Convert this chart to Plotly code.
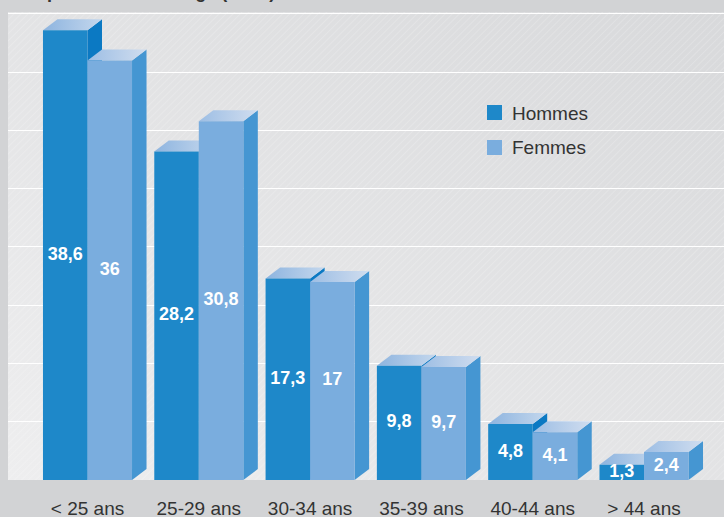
import base64
import plotly.graph_objects as go

# ---- data ----
categories = ["< 25 ans", "25-29 ans", "30-34 ans", "35-39 ans", "40-44 ans", "> 44 ans"]
hommes = [38.6, 28.2, 17.3, 9.8, 4.8, 1.3]
femmes = [36.0, 30.8, 17.0, 9.7, 4.1, 2.4]
series_names = ["Hommes", "Femmes"]
title_text = "Répartition selon l'âge (en %)"

# ---- geometry / style ----
W, H = 724, 517
ML, MR, MT, MB = 8, 0, 12, 37
PW, PH = W - ML - MR, H - MT - MB
X0, XPX = 87.5, 111.3          # pixel of category 0 centre, pixels per category
YMAX = 40.17
XR = [(ML - X0) / XPX, (W - MR - X0) / XPX]
BW = 0.4                        # bar width in category units
DX = 14.5 / XPX                 # depth offset x
DY = 11 * YMAX / PH             # depth offset y

FONT = "Arial, Liberation Sans, sans-serif"
styles = {
    "Hommes": dict(front="#1e88c9", side="#0b79c3", top=["#8db4df", "#c4d7ed"]),
    "Femmes": dict(front="#7aadde", side="#4596d2", top=["#9dbee4", "#d0ddef"]),
}

fig = go.Figure()


def poly(xs, ys, color=None, grad=None):
    xs = list(xs) + [xs[0]]
    ys = list(ys) + [ys[0]]
    kw = dict(x=xs, y=ys, mode="lines", fill="toself", line=dict(width=0),
              hoverinfo="skip", showlegend=False)
    if grad:
        kw["fillgradient"] = dict(type="horizontal",
                                  colorscale=[[0, grad[0]], [1, grad[1]]])
        kw["fillcolor"] = grad[1]
    else:
        kw["fillcolor"] = color
    fig.add_trace(go.Scatter(**kw))


def bar3d(x0, h, st):
    x1 = x0 + BW
    # side
    poly([x1, x1 + DX, x1 + DX, x1], [0, DY, h + DY, h], color=st["side"])
    # top
    poly([x0, x1, x1 + DX, x0 + DX], [h, h, h + DY, h + DY], grad=st["top"])
    # front
    poly([x0, x1, x1, x0], [0, 0, h, h], color=st["front"])


for i, cat in enumerate(categories):
    bar3d(i - BW, hommes[i], styles["Hommes"])
    bar3d(i, femmes[i], styles["Femmes"])

# value labels
lx, ly, lt = [], [], []
for i in range(len(categories)):
    lx += [i - BW / 2, i + BW / 2]
    ly += [hommes[i] / 2, femmes[i] / 2]
    lt += [f"{hommes[i]:g}".replace(".", ","), f"{femmes[i]:g}".replace(".", ",")]
fig.add_trace(go.Scatter(x=lx, y=ly, text=lt, mode="text",
                         textfont=dict(family=FONT, size=18, color="white", weight="bold"),
                         hoverinfo="skip", showlegend=False))

# background panel (gradient + diagonal hatch) as inline svg
svg = f'''<svg xmlns="http://www.w3.org/2000/svg" width="{PW}" height="{PH}" viewBox="0 0 {PW} {PH}" preserveAspectRatio="none">
<defs>
<linearGradient id="g" x1="0" y1="1" x2="1" y2="0">
<stop offset="0" stop-color="#eeeeef"/><stop offset="1" stop-color="#d8d9db"/>
</linearGradient>
<pattern id="p" width="5" height="5" patternUnits="userSpaceOnUse" patternTransform="rotate(45)">
<line x1="0" y1="0" x2="0" y2="5" stroke="#ffffff" stroke-opacity="0.35" stroke-width="1"/>
</pattern>
</defs>
<rect width="{PW}" height="{PH}" fill="url(#g)"/>
<rect width="{PW}" height="{PH}" fill="url(#p)"/>
</svg>'''
uri = "data:image/svg+xml;base64," + base64.b64encode(svg.encode()).decode()
fig.add_layout_image(dict(source=uri, xref="paper", yref="paper", x=0, y=1,
                          sizex=1, sizey=1, sizing="stretch", layer="below",
                          xanchor="left", yanchor="top"))


def px2paper(px, py):
    return (px - ML) / PW, (H - MB - py) / PH


# custom legend
leg = [("Hommes", 105, 113), ("Femmes", 140, 148)]
for name, top, mid in leg:
    xa, ya = px2paper(487, top)
    xb, yb = px2paper(502, top + 15)
    fig.add_shape(type="rect", xref="paper", yref="paper", x0=xa, x1=xb, y0=yb, y1=ya,
                  fillcolor=styles[name]["front"], line=dict(width=0))
    tx, ty = px2paper(510, mid)
    fig.add_annotation(x=tx, y=ty, xref="paper", yref="paper", text=name,
                       showarrow=False, xanchor="left", yanchor="middle",
                       font=dict(family=FONT, size=19, color="#333333"))

# clipped title at top (only its lowest part shows, as in the reference)
tx, ty = px2paper(22, 4)
fig.add_annotation(x=tx, y=ty, xref="paper", yref="paper", text=f"<b>{title_text}</b>",
                   showarrow=False, xanchor="left", yanchor="bottom",
                   font=dict(family=FONT, size=18, color="#333333"))

fig.update_layout(
    width=W, height=H,
    margin=dict(l=ML, r=MR, t=MT, b=MB, pad=0, autoexpand=False),
    paper_bgcolor="#d2d3d5",
    plot_bgcolor="#e2e3e5",
    showlegend=False,
    xaxis=dict(range=XR, tickmode="array", tickvals=list(range(len(categories))),
               ticktext=categories, showgrid=False, zeroline=False, showline=False,
               ticks="outside", ticklen=11, tickcolor="rgba(0,0,0,0)", automargin=False,
               tickfont=dict(family=FONT, size=19, color="#333333"), fixedrange=True),
    yaxis=dict(range=[0, YMAX], dtick=5, showgrid=True, gridcolor="#ffffff", gridwidth=1,
               showticklabels=False, zeroline=False, showline=False, fixedrange=True,
               automargin=False),
)

fig.write_html("out.html")
